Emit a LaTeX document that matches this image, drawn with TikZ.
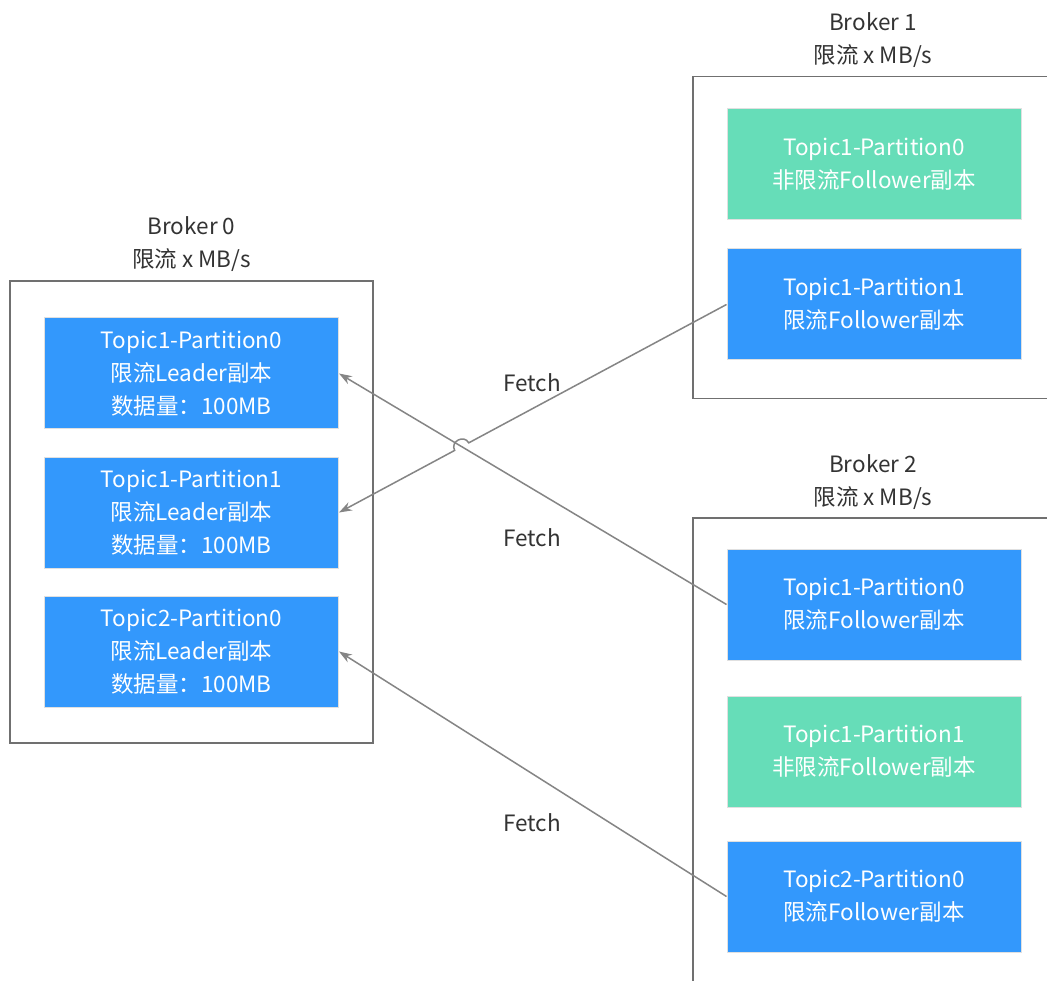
\documentclass[tikz,border=0pt]{standalone}
\usepackage{fontspec}
\setmainfont{Noto Sans CJK SC}
\usetikzlibrary{arrows.meta,calc,intersections}
\definecolor{repblue}{HTML}{3398FC}
\definecolor{repgreen}{HTML}{66DDB8}
\definecolor{brokergray}{HTML}{707070}
\definecolor{linegray}{HTML}{858585}
\definecolor{txtdark}{HTML}{333333}
\tikzset{
  x=1pt,y=1pt,
  replica/.style={minimum width=294pt,minimum height=111pt,inner sep=0pt,
    draw=black!12,line width=1pt,text=white,align=center,
    font=\fontsize{22.5}{33}\selectfont},
  leader/.style={replica,fill=repblue},
  follower/.style={replica,fill=repblue},
  free/.style={replica,fill=repgreen},
  brokerbox/.style={draw=brokergray,line width=1.5pt},
  brokerlabel/.style={text=txtdark,align=center,font=\fontsize{22.5}{33}\selectfont},
  fetchline/.style={draw=linegray,line width=1.5pt,-{Stealth[length=13pt,width=9pt]}},
  fetchlabel/.style={text=txtdark,font=\fontsize{22.5}{26}\selectfont},
}
\begin{document}
\begin{tikzpicture}
\useasboundingbox (0,0) rectangle (1047,-981);
\clip (0,0) rectangle (1047,-981);
\fill[white] (0,0) rectangle (1047,-981);
% broker boxes
\node[brokerbox,minimum width=363pt,minimum height=462pt,inner sep=0pt] (b0) at (191.5,-512) {};
\node[brokerbox,minimum width=380pt,minimum height=322pt,inner sep=0pt,anchor=north west] (b1) at (692,-76) {};
\node[brokerbox,minimum width=380pt,minimum height=500pt,inner sep=0pt,anchor=north west] (b2) at (692,-517) {};
\node[brokerlabel] (b0l) at (191.5,-244) {Broker 0\\限流 x MB/s};
\node[brokerlabel] (b1l) at (873,-40) {Broker 1\\限流 x MB/s};
\node[brokerlabel] (b2l) at (873,-482) {Broker 2\\限流 x MB/s};
% broker 0 replicas
\node[leader] (l1) at (191.5,-373.5) {Topic1-Partition0\\限流Leader副本\\数据量：100MB};
\node[leader] (l2) at (191.5,-512.5) {Topic1-Partition1\\限流Leader副本\\数据量：100MB};
\node[leader] (l3) at (191.5,-651.5) {Topic2-Partition0\\限流Leader副本\\数据量：100MB};
% broker 1 replicas
\node[free] (b1a) at (874,-164.5) {Topic1-Partition0\\非限流Follower副本};
\node[follower] (b1b) at (874,-304.5) {Topic1-Partition1\\限流Follower副本};
% broker 2 replicas
\node[follower] (b2a) at (874,-604.5) {Topic1-Partition0\\限流Follower副本};
\node[free] (b2b) at (874,-751.5) {Topic1-Partition1\\非限流Follower副本};
\node[follower] (b2c) at (874,-896.5) {Topic2-Partition0\\限流Follower副本};
% fetch connectors
\path[name path=pb] (b2a.west) -- (l1.east);
\path[name path=pa] (b1b.west) -- (l2.east);
\path[name intersections={of=pa and pb,by=X}];
\coordinate (J1) at ($(X)!8pt!(b1b.west)$);
\coordinate (J2) at ($(X)!8pt!(l2.east)$);
\draw[fetchline] (b2a.west) -- (l1.east);
\draw[fetchline] (b1b.west) -- (J1)
  .. controls ($(J1)!10pt!-90:(X)$) and ($(J2)!10pt!90:(X)$) .. (J2) -- (l2.east);
\draw[fetchline] (b2c.west) -- (l3.east);
\node[fetchlabel] (f1) at (532,-383) {Fetch};
\node[fetchlabel] (f2) at (532,-538) {Fetch};
\node[fetchlabel] (f3) at (532,-823) {Fetch};
\end{tikzpicture}
\end{document}
